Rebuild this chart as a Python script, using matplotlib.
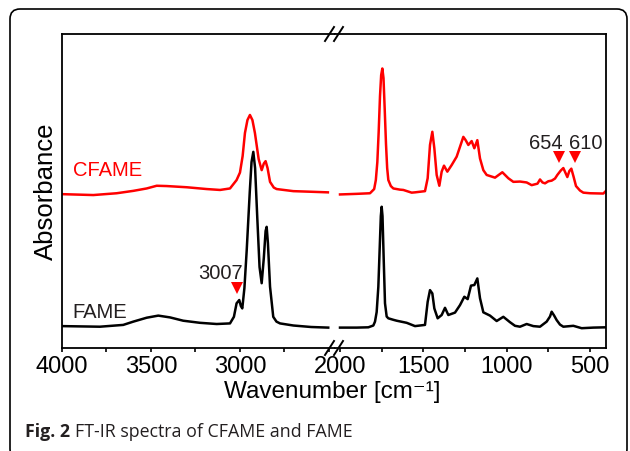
import matplotlib
matplotlib.use("Agg")
import matplotlib.pyplot as plt
from matplotlib.lines import Line2D
from matplotlib.patches import FancyBboxPatch
from matplotlib.transforms import IdentityTransform

plt.rcParams['font.family'] = ['Liberation Sans', 'DejaVu Sans']

# dane (liczba falowa [cm-1], absorbancja [j.u.])
# CFAME - zakres 4000-2500
cfame_w_hi = [4000, 3824, 3693, 3599, 3524, 3468, 3412, 3299, 3187, 3112, 3056, 3019, 3000, 2985, 2972,
              2958, 2944, 2930, 2916, 2895, 2878, 2866, 2856, 2845, 2831, 2810, 2794, 2700, 2600, 2506]
cfame_a_hi = [0.513, 0.510, 0.516, 0.524, 0.532, 0.541, 0.540, 0.536, 0.530, 0.527, 0.532, 0.560, 0.585,
              0.640, 0.717, 0.760, 0.777, 0.760, 0.717, 0.630, 0.593, 0.615, 0.623, 0.600, 0.554,
              0.535, 0.530, 0.523, 0.521, 0.519]
# CFAME - zakres 2000-400
cfame_w_lo = [2000, 1900, 1820, 1795, 1785, 1776, 1768, 1760, 1753, 1746, 1739, 1732, 1724, 1717, 1710,
              1695, 1680, 1640, 1620, 1570, 1550, 1490, 1474, 1460, 1446, 1434, 1420, 1404, 1390,
              1376, 1356, 1330, 1300, 1280, 1260, 1246, 1230, 1210, 1194, 1176, 1160, 1140, 1120,
              1070, 1026, 990, 960, 920, 880, 850, 815, 800, 785, 770, 750, 730, 710, 696, 675,
              660, 648, 636, 624, 612, 598, 584, 560, 540, 500, 420, 404]
cfame_a_lo = [0.512, 0.514, 0.516, 0.530, 0.560, 0.620, 0.720, 0.840, 0.910, 0.932, 0.900, 0.800, 0.680,
              0.600, 0.560, 0.540, 0.532, 0.528, 0.527, 0.518, 0.519, 0.523, 0.566, 0.677, 0.721,
              0.666, 0.577, 0.541, 0.588, 0.608, 0.588, 0.610, 0.638, 0.671, 0.704, 0.693, 0.677,
              0.690, 0.666, 0.693, 0.632, 0.593, 0.577, 0.568, 0.586, 0.566, 0.554, 0.555, 0.552,
              0.543, 0.548, 0.562, 0.552, 0.549, 0.556, 0.558, 0.565, 0.577, 0.592, 0.600, 0.585,
              0.570, 0.590, 0.598, 0.570, 0.540, 0.525, 0.518, 0.516, 0.515, 0.524]

# FAME - zakres 4000-2500
fame_w_hi = [4000, 3787, 3656, 3599, 3524, 3459, 3393, 3319, 3225, 3131, 3056, 3034, 3019, 3004, 2995,
             2987, 2975, 2962, 2945, 2935, 2925, 2915, 2903, 2890, 2878, 2866, 2856, 2850, 2843,
             2831, 2813, 2795, 2775, 2700, 2600, 2504]
fame_a_hi = [0.073, 0.071, 0.077, 0.088, 0.101, 0.108, 0.102, 0.091, 0.084, 0.080, 0.082, 0.104, 0.149,
             0.160, 0.140, 0.132, 0.200, 0.327, 0.520, 0.620, 0.654, 0.600, 0.438, 0.270, 0.216,
             0.300, 0.390, 0.404, 0.350, 0.204, 0.104, 0.088, 0.082, 0.075, 0.070, 0.068]
# FAME - zakres 2000-400
fame_w_lo = [2000, 1900, 1830, 1800, 1790, 1780, 1770, 1762, 1755, 1750, 1745, 1738, 1730, 1720, 1710,
             1680, 1660, 1600, 1550, 1490, 1474, 1460, 1446, 1434, 1414, 1390, 1370, 1350, 1310,
             1280, 1254, 1234, 1214, 1194, 1176, 1160, 1140, 1100, 1060, 1020, 980, 950, 920, 880,
             840, 800, 760, 740, 730, 715, 700, 680, 660, 600, 550, 480, 404]
fame_a_lo = [0.068, 0.068, 0.069, 0.075, 0.088, 0.120, 0.204, 0.330, 0.440, 0.471, 0.440, 0.300, 0.149,
             0.105, 0.099, 0.094, 0.091, 0.084, 0.073, 0.077, 0.154, 0.193, 0.182, 0.132, 0.099,
             0.110, 0.134, 0.110, 0.118, 0.143, 0.171, 0.163, 0.208, 0.210, 0.232, 0.166, 0.119,
             0.108, 0.090, 0.104, 0.086, 0.074, 0.071, 0.080, 0.073, 0.071, 0.088, 0.105, 0.121,
             0.108, 0.093, 0.078, 0.071, 0.074, 0.066, 0.068, 0.069]

# zaznaczone pasma
marker_w_hi = [3015]
marker_a_hi = [0.200]
marker_w_lo = [684, 590]
marker_a_lo = [0.638, 0.638]

W, H = 630, 451
fig = plt.figure(figsize=(W / 100, H / 100), dpi=100)

# ramka wokol rysunku (w pikselach)
ramka = FancyBboxPatch((10, -8), 617, H - 9 + 8, boxstyle="round,pad=0,rounding_size=10",
                       transform=IdentityTransform(), fill=False, lw=1.2, ec='black')
fig.patches.append(ramka)

x_l, x_b, x_r, y_b, y_t = 62, 335, 606, 348, 34
ax1 = fig.add_axes([x_l / W, (H - y_b) / H, (x_b - x_l) / W, (y_b - y_t) / H])
ax2 = fig.add_axes([x_b / W, (H - y_b) / H, (x_r - x_b) / W, (y_b - y_t) / H])

ax1.plot(cfame_w_hi, cfame_a_hi, color='#ff0000', lw=1.8)
ax1.plot(fame_w_hi, fame_a_hi, color='black', lw=1.8)
ax2.plot(cfame_w_lo, cfame_a_lo, color='#ff0000', lw=1.8)
ax2.plot(fame_w_lo, fame_a_lo, color='black', lw=1.8)

ax1.plot(marker_w_hi, marker_a_hi, 'v', color='#ff0000', ms=8, mew=0)
ax2.plot(marker_w_lo, marker_a_lo, 'v', color='#ff0000', ms=8, mew=0)

ax1.set_xlim(4000, 2466)
ax2.set_xlim(2030, 404)
for ax in (ax1, ax2):
    ax.set_ylim(0, 1.047)
    ax.set_yticks([])
    ax.tick_params(axis='x', direction='out', length=3, width=1.2, labelsize=17, pad=3)
    ax.tick_params(axis='x', which='minor', direction='out', length=3, width=1.2)
    for s in ax.spines.values():
        s.set_linewidth(1.3)
ax1.set_xticks([4000, 3500, 3000])
ax1.set_xticks([3750, 3250, 2750, 2500], minor=True)
ax2.set_xticks([2000, 1500, 1000, 500])
ax2.set_xticks([1750, 1250, 750], minor=True)
ax1.spines['right'].set_visible(False)
ax2.spines['left'].set_visible(False)
ax2.tick_params(left=False)

ax1.set_ylabel('Absorbance', fontsize=18.5, labelpad=3)
fig.text(332 / W, 1 - 392 / H, 'Wavenumber [cm⁻¹]', fontsize=17.5, ha='center', va='center')

ax1.text(3940, 0.592, 'CFAME', color='#ff0000', fontsize=14.5, va='center')
ax1.text(3940, 0.120, 'FAME', color='#231f20', fontsize=14.5, va='center')
ax1.text(3112, 0.250, '3007', color='#231f20', fontsize=14.5, ha='center', va='center')
ax2.text(767, 0.682, '654', color='#231f20', fontsize=14.5, ha='center', va='center')
ax2.text(524, 0.682, '610', color='#231f20', fontsize=14.5, ha='center', va='center')

# znaczniki przerwania osi
for yc in (y_t, y_b):
    for dx in (0, 9):
        x0 = (x_b - 10 + dx) / W
        x1 = (x_b - 1 + dx) / W
        y0 = 1 - (yc + 7) / H
        y1 = 1 - (yc - 7) / H
        fig.add_artist(Line2D([x0, x1], [y0, y1], color='black', lw=1.4, transform=fig.transFigure))

# podpis rysunku
t1 = fig.text(25 / W, 1 - 432 / H, 'Fig. 2', fontsize=12.8, fontweight='bold',
              family=['Open Sans', 'DejaVu Sans'], color='#231f20', va='center')
fig.canvas.draw()
bb = t1.get_window_extent()
fig.text((bb.x1 + 5) / W, 1 - 432 / H, 'FT-IR spectra of CFAME and FAME', fontsize=12.8,
         family=['Open Sans', 'DejaVu Sans'], color='#231f20', va='center')

fig.savefig('out.png', dpi=100)
